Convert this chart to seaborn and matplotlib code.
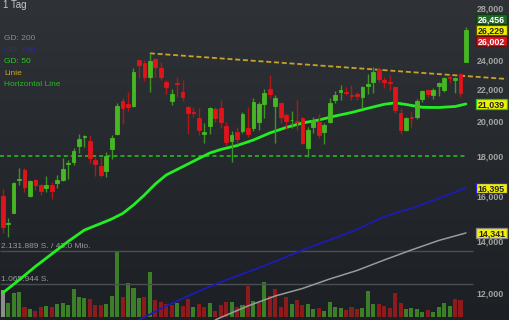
import numpy as np
import matplotlib
matplotlib.use("Agg")
import matplotlib.pyplot as plt
import matplotlib.transforms as mtransforms
from matplotlib.patches import Rectangle
from matplotlib.colors import LinearSegmentedColormap
from matplotlib.ticker import NullLocator, NullFormatter
import seaborn as sns

# ---------------- data ----------------
opens = [16020, 14715, 15230, 16770, 17291, 16005, 16785, 16537, 16376, 16537,
         16621, 16785, 17601, 17722, 18569, 19055, 18863, 17812, 17513, 17255,
         18387, 19242, 21224, 21017, 20911, 23974, 23782, 22773, 24045, 23431,
         22477, 21243, 22410, 21819, 20831, 20524, 20161, 19225, 19723, 20707,
         20769, 19705, 18863, 19374, 19415, 19571, 19571, 19958, 21036, 21975,
         20911, 21080, 20360, 20042, 20000, 20161, 18475, 19629, 19958, 19340,
         19958, 21288, 21819, 21819, 21606, 21651, 21459, 22211, 22477, 23321,
         22591, 22477, 22145, 20463, 19472, 20221, 20221, 21332, 21929, 21606,
         22192, 21929, 22807, 22591, 22997, 23853]
closes = [14584, 14785, 16621, 16819, 16424, 16735, 16537, 16260, 16537, 16260,
          16785, 17327, 17670, 18311, 18959, 19128, 17902, 17586, 17036, 18041,
          18998, 20930, 20806, 20868, 23113, 23620, 22773, 23902, 23459, 22813,
          22145, 21670, 22324, 21459, 20463, 20481, 19472, 19374, 20806, 20161,
          19923, 18807, 19185, 18959, 20402, 19242, 21180, 21036, 21715, 21670,
          21395, 20221, 20018, 20077, 19941, 18751, 19472, 20059, 19185, 19764,
          21080, 21606, 21929, 21754, 21542, 21523, 22145, 22324, 23155, 22638,
          22477, 22370, 20664, 19472, 20161, 20179, 21224, 21884, 21670, 21929,
          22370, 22705, 22759, 22725, 21715, 26229]
highs = [16342, 14979, 16670, 17378, 17368, 16809, 16819, 16562, 16985, 16700,
         17036, 17934, 17812, 18442, 19242, 19157, 19185, 17987, 17987, 18257,
         19185, 21080, 21395, 21819, 23390, 24009, 23974, 24456, 24138, 23853,
         22591, 21975, 22813, 22591, 20911, 20868, 20769, 19899, 20868, 20831,
         21288, 19958, 19432, 19664, 20560, 20831, 21395, 21180, 21975, 22929,
         21606, 21180, 20463, 20621, 21288, 20221, 19664, 20221, 20420, 19864,
         21395, 21884, 22258, 22145, 22258, 21819, 22192, 22977, 23501, 23501,
         22813, 22929, 22192, 20769, 20257, 20621, 21332, 21929, 21995, 22041,
         22477, 22773, 22929, 22813, 23045, 26456]
lows = [14326, 14182, 15203, 16537, 16211, 15972, 16293, 16053, 16211, 15863,
        16376, 16750, 16819, 17549, 18170, 18530, 17638, 16985, 16950, 16950,
        17849, 19185, 19823, 20621, 20880, 22705, 22544, 21819, 22813, 22591,
        21670, 20974, 21497, 21243, 19242, 20257, 19185, 18751, 19225, 19958,
        19571, 18624, 17722, 18679, 19282, 19089, 19432, 19472, 20161, 21395,
        18718, 19864, 19513, 19571, 19472, 18679, 17987, 19282, 18998, 18679,
        19864, 21117, 21288, 21606, 21288, 21288, 20769, 21670, 21754, 22477,
        22041, 21929, 20463, 19242, 19443, 19664, 20101, 21180, 21459, 21332,
        21542, 21819, 22370, 21715, 21459, 23853]
volumes = [872000, 443000, 766000, 798000, 313000, 258000, 194000, 313000, 365000, 313000,
           420000, 443000, 388000, 895000, 636000, 604000, 581000, 388000, 388000, 420000,
           678000, 2140000, 656000, 1108000, 946000, 604000, 656000, 1463000, 549000, 494000,
           410000, 388000, 462000, 355000, 572000, 313000, 420000, 333000, 443000, 203000,
           388000, 494000, 494000, 333000, 388000, 1001000, 517000, 443000, 1121000, 678000,
           895000, 313000, 656000, 420000, 549000, 388000, 410000, 249000, 300000, 203000,
           475000, 333000, 281000, 226000, 313000, 249000, 281000, 850000, 410000, 410000,
           365000, 281000, 766000, 462000, 249000, 281000, 249000, 171000, 226000, 171000,
           313000, 462000, 365000, 572000, 549000, 0]

gd50_idx = [0, 3, 6, 9, 12, 15, 18, 20, 22, 24, 26, 28, 30, 32, 34, 36, 38, 40,
            43, 46, 49, 52, 55, 58, 61, 64, 67, 70, 72, 74, 77, 80, 83, 85]
gd50 = [11999, 12471, 12981, 13473, 13982, 14467, 14750, 14948, 15194, 15583,
        16053, 16586, 17036, 17316, 17601, 17892, 18186, 18376, 18596, 18902,
        19299, 19617, 19882, 20059, 20299, 20511, 20769, 21017, 21111, 21005,
        20831, 20818, 20880, 21039]
gd150_idx = [25, 30, 35, 40, 45, 50, 55, 60, 65, 70, 75, 80, 85]
gd150 = [11073, 11544, 11981, 12397, 12771, 13176, 13634, 14045, 14489, 15059,
         15431, 15887, 16395]
gd200_idx = [39, 40, 45, 50, 55, 60, 65, 70, 75, 80, 85]
gd200 = [11073, 11156, 11544, 11892, 12160, 12508, 12828, 13234, 13634, 14024, 14341]

linie_idx = [27, 92.5]
linie_val = [24456, 22658]
horizontal_level = 18000
horizontal_idx = [-0.5, 85]

price_ticks = [12000, 14000, 16000, 18000, 20000, 22000, 24000, 28000]
price_tick_labels = ["12,000", "14,000", "16,000", "18,000", "20,000",
                     "22,000", "24,000", "28,000"]
vol_grid = [1065944, 2131889]
vol_grid_labels = ["1.065.944 S.", "2.131.889 S. / 43.0 Mio."]
legend_labels = ["GD: 200", "GD: 150", "GD: 50", "Linie", "Horizontal Line"]
legend_colors = ["#8c8c8c", "#2424d8", "#22cc22", "#c9a622", "#22bb22"]
period_label = "1 Tag"

last_high, last_close, last_bid = 26456, 26229, 26002
tag_gd50, tag_gd150, tag_gd200 = 21039, 16395, 14341

# ---------------- style ----------------
sns.set_theme(style="dark")
plt.rcParams["font.family"] = ["Liberation Sans", "DejaVu Sans"]
plt.rcParams["lines.scale_dashes"] = False

W, H = 510, 320
fig = plt.figure(figsize=(W / 100, H / 100), dpi=100)

# background gradient
ax_bg = fig.add_axes([0, 0, 1, 1], zorder=-10)
ax_bg.set_axis_off()
grad = np.linspace(0, 1, 256).reshape(-1, 1)
cmap_bg = LinearSegmentedColormap.from_list("bg", ["#2f3337", "#1c1f23"])
ax_bg.imshow(grad, aspect="auto", cmap=cmap_bg, extent=[0, 1, 0, 1])

n = len(closes)
idx = np.arange(n)
x_left = -2.7 / 5.45
x_right = (W - 2.7) / 5.45

# ---------------- volume pane ----------------
ax_vol = fig.add_axes([0, 0, 1, 1], zorder=0)
ax_vol.patch.set_alpha(0)
ax_vol.set_axis_off()
ax_vol.set_xlim(x_left, x_right)
px_per_unit = 33 / vol_grid[0]
ax_vol.set_ylim(-3 / px_per_unit, 317 / px_per_unit)

vol_colors = ["#8d8d8d"]
for i in range(1, n):
    vol_colors.append("#3b7f26" if closes[i] >= closes[i - 1] else "#8e1b1b")
ax_vol.bar(idx, volumes, width=0.75, color=vol_colors, linewidth=0)
ax_vol.hlines(vol_grid, x_left, (473 - 2.7) / 5.45, color="#4a4e53", linewidth=1)
tv = mtransforms.offset_copy(
    mtransforms.blended_transform_factory(ax_vol.transAxes, ax_vol.transData),
    fig=fig, x=0, y=3, units="dots")
for v, lab in zip(vol_grid, vol_grid_labels):
    ax_vol.text(0.002, v, lab, transform=tv, fontsize=6, color="#9a9a9a",
                va="baseline", ha="left")

# ---------------- price pane ----------------
ax = fig.add_axes([0, 0, 1, 1], zorder=1)
ax.patch.set_alpha(0)
ax.set_yscale("log")
ax.set_xlim(x_left, x_right)
ax.set_ylim(11073, 28652)
for s in ax.spines.values():
    s.set_visible(False)
ax.set_xticks([])
ax.yaxis.tick_right()
ax.set_yticks(price_ticks)
ax.set_yticklabels(price_tick_labels, fontweight="bold")
ax.yaxis.set_minor_locator(NullLocator())
ax.yaxis.set_minor_formatter(NullFormatter())
ax.tick_params(axis="y", length=0, pad=-23.8, labelsize=6.4, labelcolor="#a3a3a3")
ax.grid(False)

# horizontal line and trend line
ax.plot(horizontal_idx, [horizontal_level] * 2, color="#22bb22", lw=1.2,
        dashes=(2.9, 2.2), zorder=2)
ax.plot(linie_idx, linie_val, color="#c9a227", lw=1.3, dashes=(3.6, 2.0), zorder=2)

# moving averages
sns.lineplot(x=gd200_idx, y=gd200, ax=ax, color="#9a9a9a", linewidth=1.1, zorder=3)
sns.lineplot(x=gd150_idx, y=gd150, ax=ax, color="#1c1cb4", linewidth=1.3, zorder=3)
sns.lineplot(x=gd50_idx, y=gd50, ax=ax, color="#22ee22", linewidth=2.0, zorder=3)

# candles
up = [c >= o for o, c in zip(opens, closes)]
body_col = ["#47b823" if u else "#e0141b" for u in up]
wick_col = ["#3c9424" if u else "#b01818" for u in up]
ax.vlines(idx, lows, highs, colors=wick_col, linewidth=1, zorder=4)
bottoms = [min(o, c) for o, c in zip(opens, closes)]
heights = [abs(c - o) for o, c in zip(opens, closes)]
ax.bar(idx, heights, bottom=bottoms, width=0.68, color=body_col,
       edgecolor=body_col, linewidth=0.6, zorder=5)

# price tags: fixed-size boxes in pixels anchored at (axes x, price y)
tx = mtransforms.blended_transform_factory(ax.transAxes, ax.transData)
xc = 491.5 / W
dpi_scale = fig.dpi / 100.0

def tag(y, s, fc, ec, tc, dy_px=0.0):
    trans = (mtransforms.Affine2D().scale(dpi_scale)
             + mtransforms.ScaledTranslation(xc, y, tx))
    ax.add_patch(Rectangle((-15.5, dy_px - 5.2), 31, 10.4, transform=trans,
                           facecolor=fc, edgecolor=ec, linewidth=0.9,
                           clip_on=False, zorder=9))
    ax.text(0, dy_px, s, transform=trans, ha="center", va="center_baseline",
            fontsize=6.4, fontweight="bold", color=tc, zorder=10, clip_on=False)

tag(last_close, f"{last_high:,}", "#22662a", "#0f3a12", "white", dy_px=10.5)
tag(last_close, f"{last_close:,}", "#f2f000", "#555500", "#222222")
tag(last_close, f"{last_bid:,}", "#d51822", "#6a0a0a", "white", dy_px=-11.0)
tag(tag_gd50, f"{tag_gd50:,}", "#f2f000", "#22cc22", "#222222")
tag(tag_gd150, f"{tag_gd150:,}", "#f2f000", "#2020ff", "#222222")
tag(tag_gd200, f"{tag_gd200:,}", "#f2f000", "#8a8a8a", "#222222")

# legend texts and period label
fig.text(3 / W, 1 - 8.5 / H, period_label, fontsize=7, color="#c8c8c8",
         va="baseline", ha="left")
for k, (lab, col) in enumerate(zip(legend_labels, legend_colors)):
    fig.text(4 / W, 1 - (40.3 + 11.5 * k) / H, lab, fontsize=6, color=col,
             va="baseline", ha="left")

fig.savefig("out.png", dpi=100)
